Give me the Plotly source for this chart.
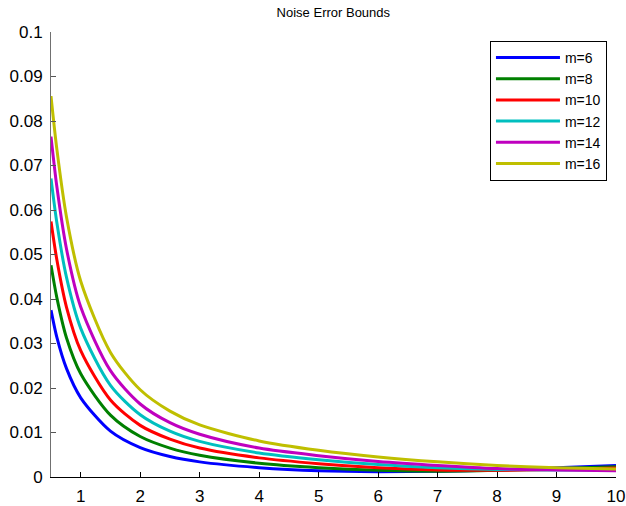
import plotly.graph_objects as go

x_vals = [0.5, 0.6, 0.76, 1.0, 1.5, 2.0, 2.5, 3.0, 4.0, 5.0, 6.0, 7.0, 8.0, 9.0, 10.0]

m6  = [0.0375, 0.0313, 0.0244, 0.0178, 0.0103, 0.0066, 0.0046, 0.0034, 0.0021, 0.0014, 0.0012, 0.0013, 0.0016, 0.0021, 0.0026]
m8  = [0.0476, 0.0402, 0.0313, 0.0232, 0.0139, 0.0091, 0.0065, 0.0049, 0.0031, 0.0021, 0.0015, 0.0013, 0.0015, 0.0019, 0.0023]
m10 = [0.0574, 0.0487, 0.0382, 0.0284, 0.0173, 0.0116, 0.0085, 0.0065, 0.0043, 0.0030, 0.0021, 0.0016, 0.0015, 0.0017, 0.0020]
m12 = [0.0671, 0.0570, 0.0449, 0.0334, 0.0206, 0.0140, 0.0103, 0.0080, 0.0054, 0.0039, 0.0028, 0.0021, 0.0017, 0.0016, 0.0016]
m14 = [0.0765, 0.0651, 0.0513, 0.0382, 0.0239, 0.0164, 0.0122, 0.0096, 0.0065, 0.0048, 0.0035, 0.0026, 0.0019, 0.0016, 0.0014]
m16 = [0.0856, 0.0735, 0.0585, 0.0440, 0.0280, 0.0196, 0.0148, 0.0117, 0.0081, 0.0060, 0.0045, 0.0034, 0.0026, 0.0021, 0.0018]

series_names = ["m=6", "m=8", "m=10", "m=12", "m=14", "m=16"]
series_vals = [m6, m8, m10, m12, m14, m16]
colors = ["#0000FF", "#008000", "#FF0000", "#00BFBF", "#BF00BF", "#BFBF00"]

x_ticks = [1, 2, 3, 4, 5, 6, 7, 8, 9, 10]
y_ticks = [0, 0.01, 0.02, 0.03, 0.04, 0.05, 0.06, 0.07, 0.08, 0.09, 0.1]
y_tick_text = ["0", "0.01", "0.02", "0.03", "0.04", "0.05", "0.06", "0.07", "0.08", "0.09", "0.1"]

fig = go.Figure()
for name, vals, c in zip(series_names, series_vals, colors):
    fig.add_trace(go.Scatter(
        x=x_vals, y=vals, name=name, mode="lines",
        line=dict(color=c, width=3, shape="spline", smoothing=0.8),
    ))

font_family = "Liberation Sans, Arial, sans-serif"
fig.update_layout(
    width=626, height=506,
    margin=dict(l=51, r=10, t=32, b=29, autoexpand=False),
    paper_bgcolor="white", plot_bgcolor="white",
    font=dict(family=font_family, size=17, color="black"),
    title=dict(text="Noise Error Bounds", x=0.5325, xanchor="center",
               y=1 - 12 / 506, yanchor="middle", yref="container",
               font=dict(size=13, color="black")),
    showlegend=True,
    legend=dict(x=0.984, xanchor="right", y=0.98, yanchor="top",
                bordercolor="black", borderwidth=1, bgcolor="white",
                font=dict(size=14, color="black"), tracegroupgap=0,
                itemwidth=64),
    xaxis=dict(range=[0.5, 10], tickvals=x_ticks, ticks="inside", ticklen=5,
               tickcolor="black", showline=True, linecolor="black", linewidth=1,
               showgrid=False, zeroline=False, ticklabelstandoff=4,
               tickfont=dict(size=17), automargin=False),
    yaxis=dict(range=[0, 0.1], tickvals=y_ticks, ticktext=y_tick_text,
               ticks="inside", ticklen=5, tickcolor="#555555", showline=True,
               linecolor="#707070", linewidth=1, showgrid=False, zeroline=False,
               ticklabelstandoff=4, tickfont=dict(size=17), automargin=False),
)

fig.write_html("out.html")
